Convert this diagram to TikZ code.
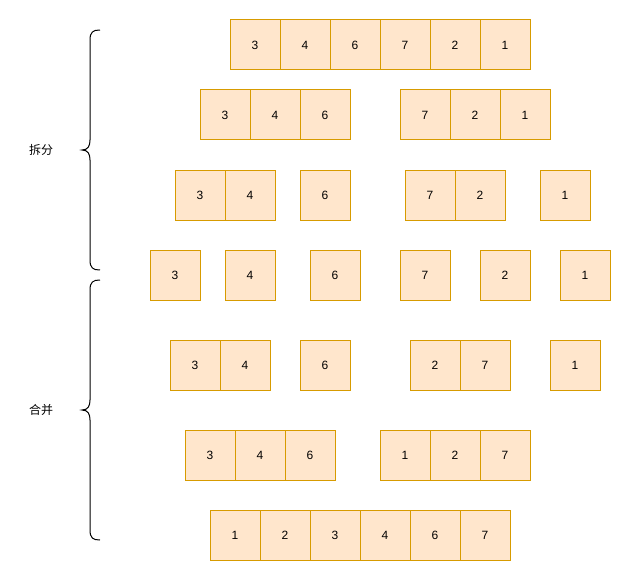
\documentclass[tikz,border=0pt]{standalone}
\usepackage{fontspec}
\setmainfont{Liberation Sans}
\newfontfamily\cjk{Noto Sans CJK SC}
\definecolor{cellfill}{HTML}{FFE6CC}
\definecolor{celldraw}{HTML}{D79B00}
\begin{document}
\begin{tikzpicture}[x=0.75pt,y=-0.75pt,
  cell/.style={draw=celldraw,fill=cellfill,line width=0.75pt,minimum size=37.5pt,inner sep=0pt,font=\fontsize{9}{10}\selectfont},
  brace/.style={draw=black,line width=0.75pt},
  lbl/.style={font=\cjk\fontsize{9}{10}\selectfont,inner sep=0pt}]
\useasboundingbox (0,0) rectangle (631,581);
% row 1
\foreach \x/\v [count=\i] in {255/3,305/4,355/6,405/7,455/2,505/1}
  \node[cell,name=ra\i] at (\x,45) {\v};
% row 2
\foreach \x/\v [count=\i] in {225/3,275/4,325/6,425/7,475/2,525/1}
  \node[cell,name=rb\i] at (\x,115) {\v};
% row 3
\foreach \x/\v [count=\i] in {200/3,250/4,325/6,430/7,480/2,565/1}
  \node[cell,name=rc\i] at (\x,195) {\v};
% row 4
\foreach \x/\v [count=\i] in {175/3,250/4,335/6,425/7,505/2,585/1}
  \node[cell,name=rd\i] at (\x,275) {\v};
% row 5
\foreach \x/\v [count=\i] in {195/3,245/4,325/6,435/2,485/7,575/1}
  \node[cell,name=re\i] at (\x,365) {\v};
% row 6
\foreach \x/\v [count=\i] in {210/3,260/4,310/6,405/1,455/2,505/7}
  \node[cell,name=rf\i] at (\x,455) {\v};
% row 7
\foreach \x/\v [count=\i] in {235/1,285/2,335/3,385/4,435/6,485/7}
  \node[cell,name=rg\i] at (\x,535) {\v};
% braces
\draw[brace] (100,30) .. controls (93,30) and (90,32) .. (90,40) -- (90,140)
  .. controls (90,146) and (88,150) .. (82,150)
  .. controls (88,150) and (90,154) .. (90,160) -- (90,260)
  .. controls (90,268) and (93,270) .. (100,270);
\draw[brace] (100,280) .. controls (93,280) and (90,282) .. (90,290) -- (90,400)
  .. controls (90,406) and (88,410) .. (82,410)
  .. controls (88,410) and (90,414) .. (90,420) -- (90,530)
  .. controls (90,538) and (93,540) .. (100,540);
\node[lbl] (split) at (41,150) {拆分};
\node[lbl] (merge) at (41,410) {合并};
\end{tikzpicture}
\end{document}
